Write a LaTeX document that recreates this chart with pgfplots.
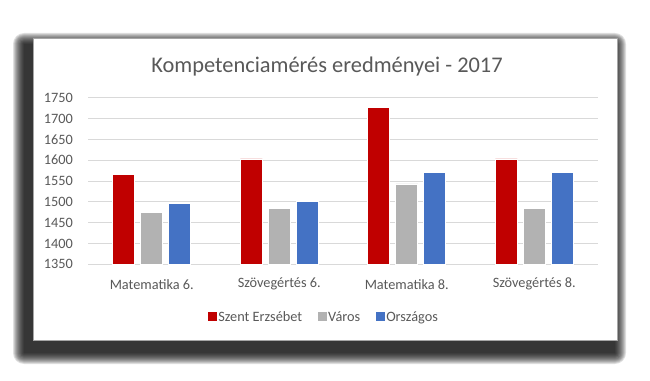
\documentclass[border=0pt]{standalone}
\usepackage{fontspec}
\setmainfont{Carlito}
\usepackage{pgfplots}
\pgfplotsset{compat=1.18}
\definecolor{cRed}{RGB}{192,0,0}
\definecolor{cGray}{RGB}{178,178,178}
\definecolor{cBlue}{RGB}{68,114,196}
\definecolor{cText}{RGB}{89,89,89}
\definecolor{cGrid}{RGB}{217,217,217}
\begin{document}
\begin{tikzpicture}
\path[use as bounding box] (0pt,0pt) rectangle (650pt,380pt);
% shadow
\foreach \r in {11,10,...,0}{
  \fill[black,opacity=0.12,rounded corners=\r pt] (24pt-\r pt,27pt-\r pt) rectangle (615pt+\r pt,336pt+\r pt);
}
\fill[white,draw=black!35,line width=0.6pt] (33pt,40pt) rectangle (617pt,342pt);
\node[text=cText,font=\fontsize{22.4}{26}\selectfont] at (327pt,313pt) {Kompetenciamérés eredményei - 2017};
\begin{axis}[
  at={(88pt,115.7pt)}, anchor=south west,
  scale only axis, width=510pt, height=166.6pt,
  ybar=6pt, bar width=22pt,
  xmin=-0.5, xmax=3.5, ymin=1350, ymax=1750,
  ytick distance=50,
  xtick={0,1,2,3},
  xticklabels={Matematika 6.,Szövegértés 6.,Matematika 8.,Szövegértés 8.},
  axis line style={draw=none},
  major tick length=0pt,
  ymajorgrids, grid style={cGrid, line width=0.8pt},
  tick label style={font=\fontsize{14.3}{16}\selectfont, text=cText},
  /pgf/number format/assume math mode=true,
  /pgf/number format/1000 sep={},
  yticklabel style={anchor=east, inner sep=0pt, xshift=-15pt},
  xticklabel style={anchor=center, inner sep=0pt, yshift=-20pt},
  legend columns=3,
  legend style={draw=none, fill=none, at={(0.462,-0.316)}, anchor=center,
    font=\fontsize{14.3}{16}\selectfont, text=cText,
    /tikz/every even column/.append style={column sep=14pt},
    nodes={inner sep=1.5pt}},
  legend image code/.code={\fill[#1,draw=none] (0pt,-4.5pt) rectangle (9pt,4.5pt);},
]
\addplot[fill=cRed, draw=white, line width=0.6pt] coordinates {(0,1565) (1,1603) (2,1726) (3,1603)};
\addplot[fill=cGray, draw=white, line width=0.6pt] coordinates {(0,1474) (1,1485) (2,1543) (3,1484)};
\addplot[fill=cBlue, draw=white, line width=0.6pt] coordinates {(0,1496) (1,1501) (2,1570) (3,1570)};
\legend{Szent Erzsébet,Város,Országos}
\end{axis}
\end{tikzpicture}
\end{document}
